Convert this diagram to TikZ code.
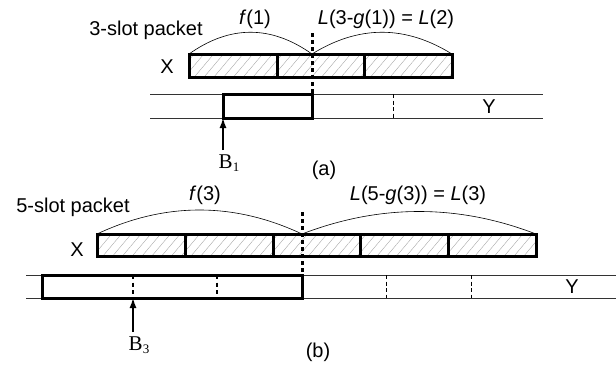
\documentclass[tikz,border=0pt]{standalone}
\usepackage{fontspec}
\setmainfont{Liberation Sans}
\newfontfamily\serf{Liberation Serif}
\usetikzlibrary{patterns.meta,arrows.meta}
\begin{document}
\begin{tikzpicture}[x=1pt,y=-1pt,
  lbl/.style={font=\fontsize{20}{22}\selectfont, inner sep=0pt, anchor=base},
  blbl/.style={font=\serf\fontsize{21}{23}\selectfont, inner sep=0pt, anchor=base},
  slot/.style={line width=3pt, pattern={Lines[angle=50,distance=7.5pt,line width=0.35pt]}, pattern color=gray!75},
  ybox/.style={line width=3pt},
  rail/.style={line width=0.7pt, black!80},
  cut/.style={line width=3pt, dash pattern=on 4pt off 3pt},
  sep/.style={line width=0.9pt, dash pattern=on 4pt off 2.5pt},
  inner/.style={line width=2.8pt, dash pattern=on 4pt off 3.5pt},
  span/.style={line width=0.6pt},
  ptr/.style={line width=1.4pt, -{Latex[length=10pt,width=7pt]}}]
\useasboundingbox (0,0) rectangle (616,367);

% ---------------- (a) ----------------
\node[lbl] (pa) at (146,35) {3-slot packet};
\node[lbl] (fa) at (255,24) {\textit{f}(1)};
\node[lbl] (la) at (386,24) {\textit{L}(3-\textit{g}(1)) = \textit{L}(2)};
\node[lbl] (xa) at (167,73) {X};
\node[lbl] (ya) at (489,113) {Y};

\draw[rail] (150,94) -- (543,94);
\draw[rail] (150,118) -- (543,118);
\draw[sep] (393,94) -- (393,118);

\foreach \a/\b in {189/277,277/364,364/452}
  \draw[slot] (\a,54) rectangle (\b,77);
\draw[ybox] (223,94) rectangle (312,118);

\coordinate (aL) at (189,54);
\coordinate (aM) at (312,54);
\coordinate (aR) at (452,54);
\draw[span] (aL) .. controls (230,25) and (271,25) .. (aM);
\draw[span] (aM) .. controls (359,25) and (405,25) .. (aR);
\draw[cut] (312,33) -- (312,95);

\coordinate (ta) at (223,118);
\node[blbl] (B1) at (229,168) {B\raisebox{-0.35ex}{\fontsize{13}{13}\selectfont 1}};
\draw[ptr] (223,150) -- (ta);
\node[lbl] (capa) at (324,175) {(a)};

% ---------------- (b) ----------------
\node[lbl] (pb) at (73,212) {5-slot packet};
\node[lbl] (fb) at (205,200) {\textit{f}(3)};
\node[lbl] (lb) at (418,200) {\textit{L}(5-\textit{g}(3)) = \textit{L}(3)};
\node[lbl] (xb) at (77,256) {X};
\node[lbl] (yb) at (572,293) {Y};

\draw[rail] (26,275) -- (616,275);
\draw[rail] (26,298) -- (616,298);
\draw[sep] (386,275) -- (386,298);
\draw[sep] (471,275) -- (471,298);

\foreach \a/\b in {97/185,185/273,273/360,360/448,448/536}
  \draw[slot] (\a,234) rectangle (\b,256);
\draw[ybox] (42,275) rectangle (302,298);
\draw[inner] (133,275) -- (133,298);
\draw[inner] (217,275) -- (217,298);

\coordinate (bL) at (97,234);
\coordinate (bM) at (302,234);
\coordinate (bR) at (536,234);
\draw[span] (bL) .. controls (165,202) and (234,202) .. (bM);
\draw[span] (bM) .. controls (380,204) and (458,204) .. (bR);
\draw[cut] (302,212) -- (302,276);

\coordinate (tb) at (133,298);
\node[blbl] (B3) at (139,350) {B\raisebox{-0.35ex}{\fontsize{13}{13}\selectfont 3}};
\draw[ptr] (133,332) -- (tb);
\node[lbl] (capb) at (318,357) {(b)};
\end{tikzpicture}
\end{document}
